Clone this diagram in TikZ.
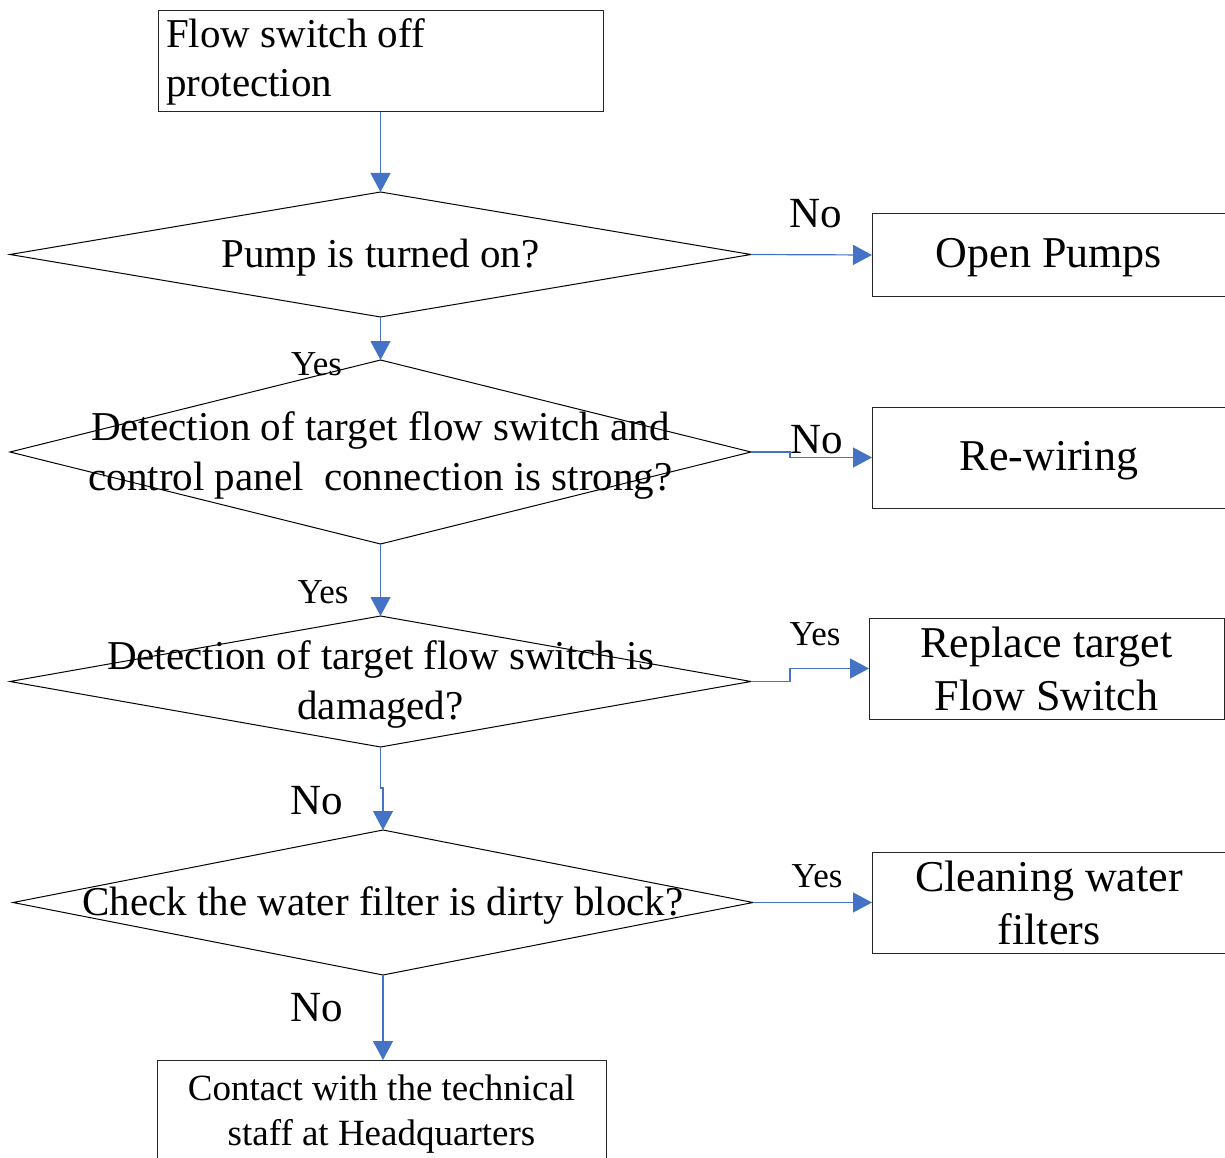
\documentclass[tikz,border=0pt]{standalone}
\usepackage{fontspec}
\setmainfont{Liberation Serif}
\usetikzlibrary{shapes.geometric,arrows.meta}
\definecolor{arrblue}{HTML}{4472C4}
\newcommand\lowertxt[1]{\raisebox{-3pt}[\height][\depth]{#1}}
\begin{document}
\begin{tikzpicture}[x=1pt,y=-1pt,
  box/.style={draw=black!85, line width=1pt, rectangle, inner sep=0pt, outer sep=0pt},
  dia/.style={draw=black, line width=1pt, diamond, inner sep=0pt, outer sep=0pt},
  arr/.style={draw=arrblue, line width=1.2pt, -{Triangle[width=20pt,length=19pt]}},
  txtA/.style={font=\fontsize{41}{50}\selectfont, align=center, inner sep=0pt, yshift=-3pt},
  txtB/.style={font=\fontsize{44}{53}\selectfont, align=center},
  lblNo/.style={font=\fontsize{43}{50}\selectfont, anchor=base, inner sep=0pt},
  lblYes/.style={font=\fontsize{35}{42}\selectfont, anchor=base, inner sep=0pt}
]
\clip (0,0) rectangle (1225,1158);
\fill[white] (0,0) rectangle (1225,1158);

% labels
\node[lblNo]  (lno1)  at (816,228)   {No};
\node[lblYes] (lyes1) at (316.5,375) {Yes};
\node[lblNo]  (lno2)  at (816.5,453) {No};
\node[lblYes] (lyes2) at (323,603)   {Yes};
\node[lblYes] (lyes3) at (815,645)   {Yes};
\node[lblNo]  (lno3)  at (316.5,814) {No};
\node[lblYes] (lyes4) at (817,887)   {Yes};
\node[lblNo]  (lno4)  at (316.5,1021){No};

% boxes
\node[box, minimum width=445pt, minimum height=101pt, text width=429pt, inner xsep=8pt,
      align=flush left, font=\fontsize{41}{49}\selectfont] (b0) at (380.5,61.5)
      {Flow switch off\\protection};
\node[box, txtB, minimum width=354pt, minimum height=82pt]  (open)  at (1049,255)    {\lowertxt{Open Pumps}};
\node[box, txtB, minimum width=354pt, minimum height=101pt] (rew)   at (1049,457.5)  {\lowertxt{Re-wiring}};
\node[box, txtB, minimum width=355pt, minimum height=101pt] (rep)   at (1046.5,668.5){Replace target\\Flow Switch};
\node[box, txtB, minimum width=354pt, minimum height=101pt] (clean) at (1049,902.5)  {Cleaning water\\filters};
\node[box, minimum width=449pt, minimum height=108pt, align=center,
      font=\fontsize{37}{45}\selectfont] (contact) at (381.5,1114)
      {Contact with the technical\\staff at Headquarters};

% diamonds
\node[dia, minimum width=741pt, minimum height=125pt] (d1) at (380.5,254.5) {};
\node[dia, minimum width=741pt, minimum height=184pt] (d2) at (380.5,452)   {};
\node[dia, minimum width=741pt, minimum height=131pt] (d3) at (380.5,681.5) {};
\node[dia, minimum width=740pt, minimum height=145pt] (d4) at (383,902.5)   {};

\node[txtA] (t1) at (d1.center) {Pump is turned on?};
\node[txtA] (t2) at (d2.center) {Detection of target flow switch and\\control panel\ \ connection is strong?};
\node[txtA] (t3) at (d3.center) {Detection of target flow switch is\\damaged?};
\node[txtA] (t4) at (d4.center) {Check the water filter is dirty block?};

% connectors
\draw[arr] (b0.south) -- (d1.north);
\draw[arr] (d1.east) -- (open.west);
\draw[arr] (d1.south) -- (d2.north);
\draw[arr] (d2.east) -- ++(39,0) |- (rew.west);
\draw[arr] (d2.south) -- (d3.north);
\draw[arr] (d3.east) -- ++(39,0) |- (rep.west);
\draw[arr] (d3.south) -- ++(0,41) -| (d4.north);
\draw[arr] (d4.east) -- (clean.west);
\draw[arr] (d4.south) -- (d4.south |- contact.north);
\end{tikzpicture}
\end{document}
